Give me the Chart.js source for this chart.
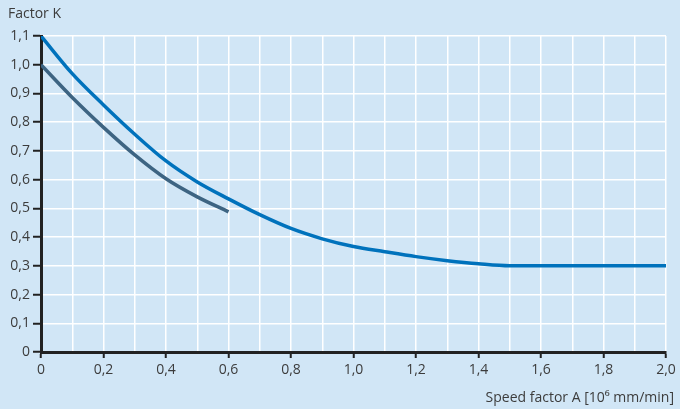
<!DOCTYPE html>
<html>
<head>
<meta charset="utf-8">
<script src="https://cdn.jsdelivr.net/npm/chart.js@4/dist/chart.umd.min.js"></script>
<style>
html,body{margin:0;padding:0;background:#d1e6f6;}
#wrap{width:680px;height:409px;}
</style>
</head>
<body>
<div id="wrap"><canvas id="c" width="680" height="409"></canvas></div>
<script>
const speedA = [0, 0.1, 0.2, 0.3, 0.4, 0.5, 0.6, 0.7, 0.8, 0.9, 1.0, 1.1, 1.2, 1.3, 1.4, 1.5, 2.0];
const factorUpper = [1.10, 0.969, 0.860, 0.758, 0.665, 0.592, 0.533, 0.478, 0.430, 0.394, 0.367, 0.349, 0.332, 0.318, 0.307, 0.300, 0.300];
const speedALower = [0, 0.1, 0.2, 0.3, 0.4, 0.5, 0.6];
const factorLower = [1.00, 0.886, 0.782, 0.686, 0.603, 0.540, 0.488];
const yAxisTitle = 'Factor K';
const xAxisTitle = 'Speed factor A [10\u2076 mm/min]';

const BG = '#d1e6f6';
const TXT = '#3c3c3c';
const AXIS = '#222222';
const FONT = '"Open Sans", "Noto Sans", sans-serif';

function fmt(v){
  const r = Math.round(v*10);
  if (r === 0) return '0';
  return (r/10).toFixed(1).replace('.', ',');
}

const bgPlugin = {
  id: 'bg',
  beforeDraw(chart){
    const ctx = chart.ctx;
    ctx.save();
    ctx.fillStyle = BG;
    ctx.fillRect(0,0,chart.width,chart.height);
    ctx.restore();
  },
  afterDraw(chart){
    const ctx = chart.ctx;
    ctx.save();
    ctx.fillStyle = TXT;
    ctx.font = '14px ' + FONT;
    ctx.textBaseline = 'alphabetic';
    ctx.textAlign = 'left';
    ctx.fillText(yAxisTitle, 8, 18);
    ctx.textAlign = 'right';
    ctx.fillText(xAxisTitle, 674, 402);
    ctx.restore();
  }
};

new Chart(document.getElementById('c'), {
  type: 'line',
  data: {
    datasets: [
      {
        data: speedA.map((x,i)=>({x:x, y:factorUpper[i]})),
        borderColor: '#0072bc',
        borderWidth: 3.5,
        pointRadius: 0,
        cubicInterpolationMode: 'monotone',
        fill: false
      },
      {
        data: speedALower.map((x,i)=>({x:x, y:factorLower[i]})),
        borderColor: '#3d6482',
        borderWidth: 3.5,
        pointRadius: 0,
        cubicInterpolationMode: 'monotone',
        fill: false
      }
    ]
  },
  options: {
    responsive: false,
    animation: false,
    devicePixelRatio: 1,
    layout: { padding: { top: 36, right: 14, left: 0, bottom: 0 } },
    plugins: { legend: { display: false }, tooltip: { enabled: false }, title: { display: false } },
    scales: {
      x: {
        type: 'linear',
        min: 0, max: 2.0,
        afterFit(scale){ scale.height = 57; },
        border: { color: AXIS, width: 3 },
        grid: {
          color: '#ffffff',
          lineWidth: 1.5,
          drawTicks: true,
          tickLength: 6,
          tickWidth: 2,
          tickColor: (c) => (c.tick && Math.round(c.tick.value*10) % 2 === 0) ? AXIS : 'rgba(0,0,0,0)'
        },
        ticks: {
          stepSize: 0.1,
          autoSkip: false,
          maxRotation: 0,
          padding: 4,
          color: TXT,
          font: { family: FONT, size: 14 },
          callback: (v) => (Math.round(v*10) % 2 === 0) ? fmt(v) : ''
        }
      },
      y: {
        type: 'linear',
        min: 0, max: 1.1,
        afterFit(scale){ scale.width = 41; },
        border: { color: AXIS, width: 3 },
        grid: {
          color: '#ffffff',
          lineWidth: 1.5,
          drawTicks: true,
          tickLength: 8,
          tickWidth: 2,
          tickColor: AXIS
        },
        ticks: {
          stepSize: 0.1,
          autoSkip: false,
          padding: 3,
          color: TXT,
          font: { family: FONT, size: 14 },
          callback: (v) => fmt(v)
        }
      }
    }
  },
  plugins: [bgPlugin]
});
</script>
</body>
</html>
